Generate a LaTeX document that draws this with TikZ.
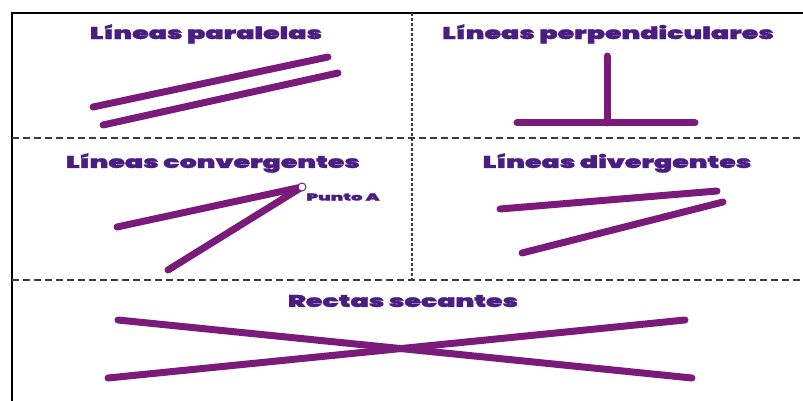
\documentclass[tikz,border=0pt]{standalone}
\usepackage{fontspec}
\setmainfont{Poppins}[BoldFont={* Black}, BoldFeatures={FakeBold=1.5}]
\usetikzlibrary{calc}
\definecolor{morado}{HTML}{7A1B7C}
\definecolor{tinta}{HTML}{4A1D82}
\definecolor{borde}{HTML}{3A3A3A}
\tikzset{
  recta/.style={morado, line width=7pt, line cap=round},
  titulo/.style={tinta, font=\bfseries\fontsize{17}{17}\selectfont, inner sep=0pt,
    xscale=1.58, transform shape},
  corte/.style={borde, line width=1.2pt, dash pattern=on 7pt off 4pt},
}

\begin{document}
\begin{tikzpicture}[x=1pt,y=-1pt]
\useasboundingbox (0,0) rectangle (803,401);
\fill[white] (0,0) rectangle (803,401);
% marco
\draw[black, line width=2pt] (12,401)--(12,13)--(803,13);
\draw[corte] (12,138)--(803,138);
\draw[corte] (12,280)--(803,280);
\draw[borde, line width=1.5pt, dash pattern=on 3pt off 2pt] (412,13)--(412,280);
% titulos
\node[titulo] (par) at (206,34) {Líneas paralelas};
\node[titulo] (per) at (608,34) {Líneas perpendiculares};
\node[titulo] (con) at (213,163) {Líneas convergentes};
\node[titulo] (div) at (617,163) {Líneas divergentes};
\node[titulo] (sec) at (403,301) {Rectas secantes};
% paralelas
\draw[recta] (93,107)--(328,57);
\draw[recta] (103,125)--(338,73);
% perpendiculares
\draw[recta] (607,56)--(607,123);
\draw[recta] (517,123)--(695,123);
% convergentes
\coordinate (A) at (302,187);
\draw[recta] (117,227)--(A);
\draw[recta] (168,270)--(A);
\draw[morado, fill=white, line width=1pt] (A) circle (4);
\node[tinta, font=\bfseries\fontsize{10}{10}\selectfont, inner sep=0pt,
  xscale=1.8, transform shape] (pa) at (343,197) {Punto A};
% divergentes
\draw[recta] (500,209)--(717,191);
\draw[recta] (522,253)--(723,202);
% secantes
\draw[recta] (118,320)--(692,378);
\draw[recta] (108,378)--(685,320);
\end{tikzpicture}
\end{document}
